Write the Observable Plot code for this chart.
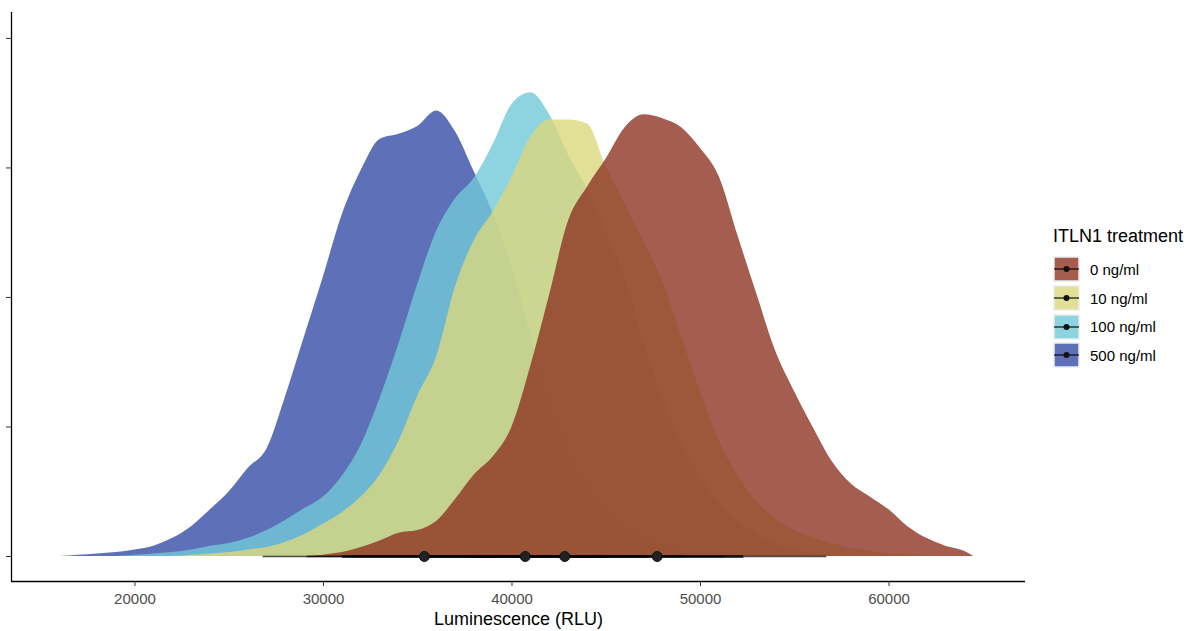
<!DOCTYPE html>
<html>
<head>
<meta charset="utf-8">
<script src="https://cdn.jsdelivr.net/npm/d3@7"></script>
<script src="https://cdn.jsdelivr.net/npm/@observablehq/plot@0.6"></script>
<style>
  html, body { margin: 0; padding: 0; background: #fff; }
  body { width: 1190px; height: 631px; position: relative; overflow: hidden; font-family: "Liberation Sans", Arial, sans-serif; }
  #chart { position: absolute; left: 0; top: 0; }
  #legend { position: absolute; left: 1053px; top: 226px; font-family: "Liberation Sans", Arial, sans-serif; }
</style>
</head>
<body>
<div id="chart"></div>
<div id="legend"></div>
<script>
// ---- Data ----
const groups = ["0 ng/ml", "10 ng/ml", "100 ng/ml", "500 ng/ml"];
const colors = ["#8D3423", "#DBD77D", "#72C9D8", "#364EA6"];
const xTicks = [20000, 30000, 40000, 50000, 60000];
const yTicks = [0, 1, 2, 3, 4];
const legendTitle = "ITLN1 treatment";
const xLabel = "Luminescence (RLU)";

// medians and intervals (66% thick, 95% thin), same order as groups
const medians = [47700, 42800, 40700, 35350];
const lo66 = [43300, 38000, 35600, 31000];
const hi66 = [52300, 47200, 45000, 39200];
const lo95 = [37500, 31460, 29130, 26800];
const hi95 = [56700, 51300, 49070, 44300];

// density curves (luminescence, relative density in y-tick units)
const lum0 = [29000,30000,31000,32000,33000,34000,35000,36000,37000,38000,39000,40000,41000,42000,43000,44000,45000,46000,47000,48000,49000,50000,51000,52000,53000,54000,55000,56000,57000,58000,59000,60000,61000,62000,63000,64000,64500];
const dens0 = [0,0.01,0.03,0.07,0.12,0.18,0.20,0.27,0.44,0.63,0.77,1.00,1.47,2.02,2.59,2.85,3.07,3.31,3.41,3.38,3.31,3.15,2.93,2.47,2.02,1.58,1.27,0.99,0.73,0.56,0.46,0.36,0.23,0.14,0.08,0.04,0];

const lum10 = [22000,23000,24000,25000,26000,27000,28000,29000,30000,31000,32000,33000,34000,35000,36000,37000,38000,39000,40000,41000,42000,43000,44000,45000,46000,47000,48000,49000,50000,51000,52000,53000,54000,55000,56000,57000,58000,59000,60000,61000,62000];
const dens10 = [0,0.01,0.02,0.03,0.05,0.07,0.11,0.17,0.25,0.34,0.46,0.63,0.89,1.24,1.54,2.08,2.44,2.66,2.93,3.24,3.37,3.37,3.34,3.01,2.72,2.43,2.12,1.70,1.27,0.89,0.62,0.42,0.29,0.20,0.14,0.10,0.06,0.04,0.02,0.01,0];

const lum100 = [19000,20000,21000,22000,23000,24000,25000,26000,27000,28000,29000,30000,31000,32000,33000,34000,35000,36000,37000,38000,39000,40000,41000,42000,43000,44000,45000,46000,47000,48000,49000,50000,51000,52000,53000,54000,55000,56000,57000];
const dens100 = [0,0.01,0.02,0.03,0.05,0.08,0.10,0.14,0.20,0.28,0.37,0.46,0.62,0.86,1.22,1.64,2.10,2.51,2.76,2.92,3.18,3.49,3.58,3.41,3.10,2.84,2.51,2.15,1.66,1.24,0.89,0.62,0.42,0.27,0.17,0.09,0.05,0.02,0];

const lum500 = [16000,17000,18000,19000,20000,21000,22000,23000,24000,25000,26000,27000,28000,29000,30000,31000,32000,33000,34000,35000,36000,37000,38000,39000,40000,41000,42000,43000,44000,45000,46000,47000,48000,49000,50000,51000,52000];
const dens500 = [0,0.01,0.02,0.03,0.05,0.08,0.14,0.23,0.36,0.50,0.68,0.83,1.24,1.70,2.16,2.64,2.98,3.22,3.26,3.32,3.44,3.28,2.97,2.65,2.24,1.70,1.20,0.83,0.56,0.37,0.24,0.15,0.09,0.05,0.03,0.01,0];

// ---- Build tables ----
const curves = [
  {g: groups[3], c: colors[3], xs: lum500, ys: dens500},
  {g: groups[2], c: colors[2], xs: lum100, ys: dens100},
  {g: groups[1], c: colors[1], xs: lum10, ys: dens10},
  {g: groups[0], c: colors[0], xs: lum0, ys: dens0}
];
const intervals = groups.map((g, i) => ({g, med: medians[i], lo66: lo66[i], hi66: hi66[i], lo95: lo95[i], hi95: hi95[i]}));

const xDomain = [13450, 67240];
const yDomain = [-0.193, 4.2];
const font = "'Liberation Sans', Arial, sans-serif";

const marks = [];
for (const cv of curves) {
  const rows = cv.xs.map((x, i) => ({x, y: cv.ys[i]}));
  marks.push(Plot.areaY(rows, {x: "x", y: "y", fill: cv.c, fillOpacity: 0.8, curve: "monotone-x"}));
}
marks.push(
  Plot.ruleY(intervals, {x1: "lo95", x2: "hi95", y: () => 0, stroke: "#000", strokeOpacity: 0.7, strokeWidth: 1.6}),
  Plot.ruleY(intervals, {x1: "lo66", x2: "hi66", y: () => 0, stroke: "#000", strokeOpacity: 0.7, strokeWidth: 3}),
  Plot.dot(intervals, {x: "med", y: () => 0, r: 5, fill: "#222", stroke: "#111", strokeWidth: 1}),
  Plot.ruleX([xDomain[0]], {stroke: "#000", strokeWidth: 1.3}),
  Plot.ruleY([yDomain[0]], {stroke: "#000", strokeWidth: 1.3}),
  Plot.axisX({ticks: xTicks, tickFormat: d3.format("d"), tickSize: 5, tickPadding: 7, fontSize: 15, color: "#4D4D4D", stroke: "#333", label: null}),
  Plot.axisY({ticks: yTicks, tickFormat: () => "", tickSize: 5, stroke: "#333", label: null}),
  Plot.text([xLabel], {frameAnchor: "bottom", dy: 38, fontSize: 18, fill: "#000", textAnchor: "middle", lineAnchor: "middle"})
);

const chart = Plot.plot({
  width: 1190,
  height: 631,
  marginLeft: 11,
  marginRight: 165,
  marginTop: 12,
  marginBottom: 50,
  style: {fontFamily: font, background: "#fff", overflow: "visible"},
  x: {domain: xDomain, label: null},
  y: {domain: yDomain, label: null},
  marks
});
document.getElementById("chart").appendChild(chart);

// ---- Legend ----
const leg = d3.select("#legend");
leg.append("div").text(legendTitle)
  .style("font-size", "18px").style("color", "#000").style("line-height", "20px").style("margin-bottom", "9px").style("white-space", "nowrap");
groups.forEach((g, i) => {
  const row = leg.append("div").style("display", "flex").style("align-items", "center").style("height", "28.7px");
  const svg = row.append("svg").attr("width", 27).attr("height", 26).style("display", "block");
  svg.append("rect").attr("x", 1).attr("y", 1).attr("width", 25).attr("height", 24)
    .attr("fill", colors[i]).attr("fill-opacity", 0.8).attr("stroke", "#EDEDED").attr("stroke-width", 1.5);
  svg.append("line").attr("x1", 1).attr("x2", 26).attr("y1", 13).attr("y2", 13).attr("stroke", "#000").attr("stroke-opacity", 0.8).attr("stroke-width", 1.4);
  svg.append("circle").attr("cx", 13.5).attr("cy", 13).attr("r", 3).attr("fill", "#111");
  row.append("span").text(g).style("font-size", "15px").style("color", "#000").style("margin-left", "10px").style("white-space", "nowrap");
});
</script>
</body>
</html>
